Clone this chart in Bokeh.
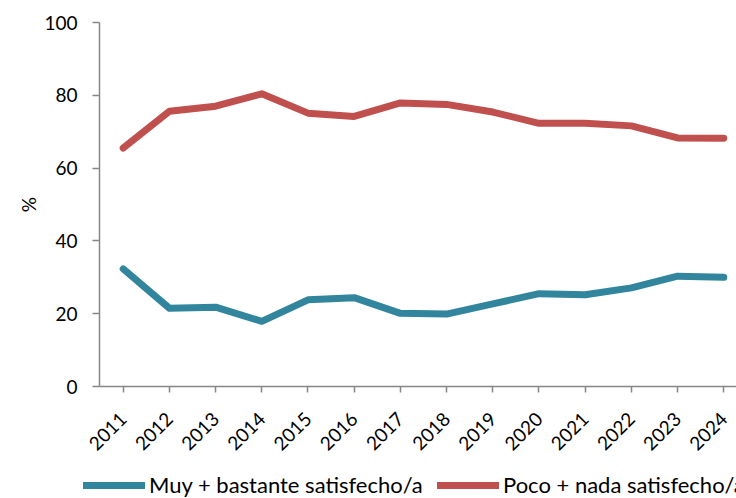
import math
from bokeh.plotting import figure
from bokeh.layouts import column, row
from bokeh.models import FixedTicker, Legend, LegendItem, Range1d
from bokeh.embed import file_html
from bokeh.resources import INLINE

years = [2011, 2012, 2013, 2014, 2015, 2016, 2017, 2018, 2019, 2020, 2021, 2022, 2023, 2024]
muy_bastante = [32.3, 21.5, 21.8, 17.9, 23.8, 24.4, 20.1, 19.9, 22.7, 25.5, 25.2, 27.1, 30.3, 30.0]
poco_nada = [65.5, 75.6, 77.0, 80.4, 75.1, 74.2, 77.9, 77.5, 75.4, 72.3, 72.3, 71.6, 68.3, 68.2]
y_ticks = [0, 20, 40, 60, 80, 100]
series_names = ["Muy + bastante satisfecho/a", "Poco + nada satisfecho/a"]

FONT = "Lato"
BLUE = "#31859C"
RED = "#C0504D"
AXIS = "#868686"
LINE_W = 7

# main chart
p = figure(width=736, height=464, output_backend="svg", toolbar_location=None,
           x_range=Range1d(2010.487, 2024.275), y_range=Range1d(0, 100),
           min_border_left=99, min_border_right=0, min_border_top=22, min_border_bottom=78)
p.outline_line_color = None
p.xgrid.grid_line_color = None
p.ygrid.grid_line_color = None

p.line(years, muy_bastante, line_color=BLUE, line_width=LINE_W, line_cap="round", line_join="round")
p.line(years, poco_nada, line_color=RED, line_width=LINE_W, line_cap="round", line_join="round")

xa = p.xaxis[0]
xa.ticker = FixedTicker(ticks=years)
xa.minor_tick_line_color = None
xa.axis_line_color = AXIS
xa.axis_line_width = 1.5
xa.major_tick_line_color = AXIS
xa.major_tick_line_width = 1.5
xa.major_tick_in = 0
xa.major_tick_out = 6
xa.major_label_orientation = math.pi / 4
xa.major_label_text_font = FONT
xa.major_label_text_font_size = "19px"
xa.major_label_text_color = "black"
xa.major_label_standoff = 23

ya = p.yaxis[0]
ya.ticker = FixedTicker(ticks=y_ticks)
ya.minor_tick_line_color = None
ya.axis_line_color = AXIS
ya.axis_line_width = 1.5
ya.major_tick_line_color = AXIS
ya.major_tick_line_width = 1.5
ya.major_tick_in = 0
ya.major_tick_out = 7
ya.major_label_text_font = FONT
ya.major_label_text_font_size = "19px"
ya.major_label_text_color = "black"
ya.major_label_standoff = 15
ya.axis_label = "%"
ya.axis_label_text_font = FONT
ya.axis_label_text_font_size = "19px"
ya.axis_label_text_font_style = "normal"
ya.axis_label_text_color = "black"
ya.axis_label_standoff = 1

# legend strip (its view range lies away from the data, so only the legend shows)
leg = figure(width=736, height=34, output_backend="svg", toolbar_location=None,
             x_range=Range1d(0, 736), y_range=Range1d(0, 34),
             min_border_left=0, min_border_right=0, min_border_top=0, min_border_bottom=0)
leg.axis.visible = False
leg.grid.visible = False
leg.outline_line_color = None
g1 = leg.line(years, muy_bastante, line_color=BLUE, line_width=LINE_W, line_cap="round")
g2 = leg.line(years, poco_nada, line_color=RED, line_width=LINE_W, line_cap="round")

common = dict(orientation="horizontal", padding=0, margin=0, spacing=0, label_standoff=4,
              glyph_width=62, glyph_height=20, border_line_color=None,
              background_fill_alpha=0, label_text_font=FONT, label_text_font_size="22px",
              label_text_color="black", label_height=20)
leg.add_layout(Legend(items=[LegendItem(label=series_names[0], renderers=[g1])],
                      location=(83, 0), **common), "center")
leg.add_layout(Legend(items=[LegendItem(label=series_names[1], renderers=[g2])],
                      location=(437, 0), **common), "center")

open("out.html", "w").write(file_html(column(p, row(leg, spacing=0), spacing=0), INLINE))
